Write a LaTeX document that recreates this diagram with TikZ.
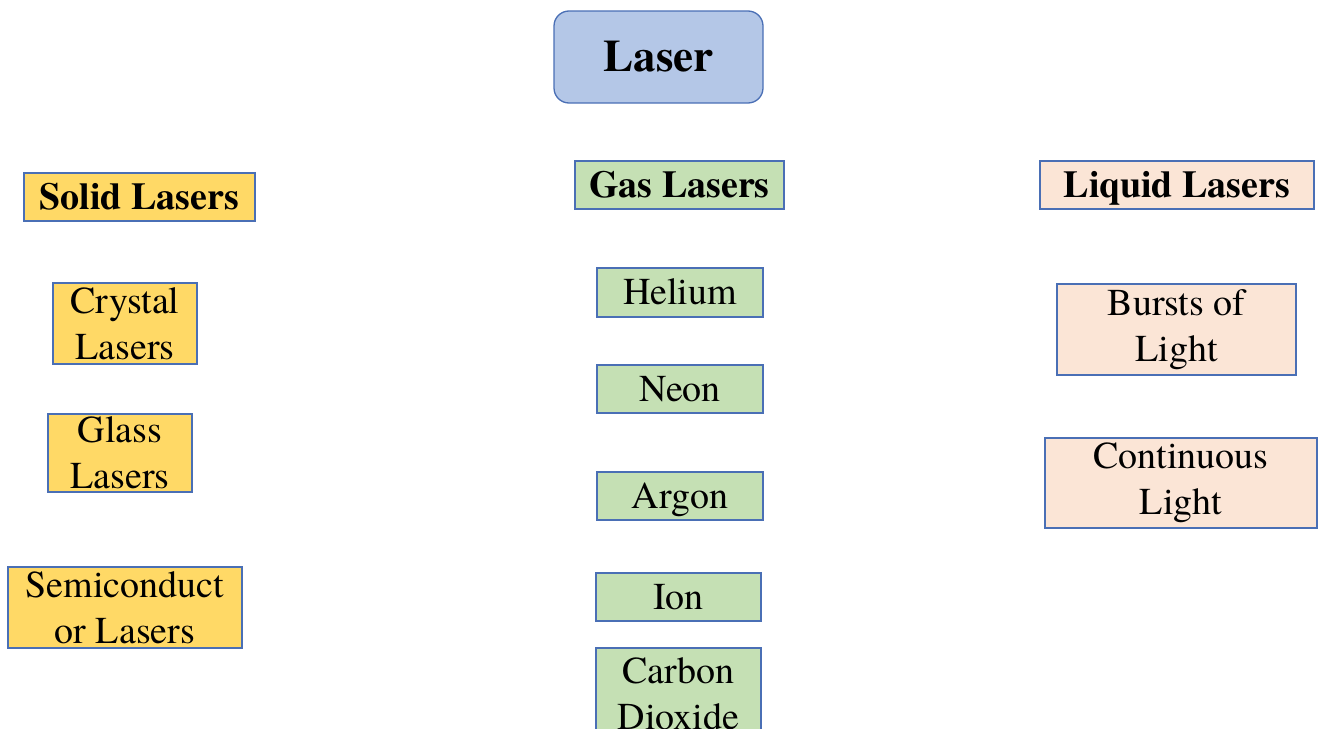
\documentclass[tikz,border=0pt]{standalone}
\usepackage{fontspec}
\setmainfont{TeX Gyre Termes}
\usetikzlibrary{positioning}
\definecolor{topblue}{HTML}{B4C7E7}
\definecolor{solidfill}{HTML}{FFD966}
\definecolor{gasfill}{HTML}{C5E0B4}
\definecolor{liquidfill}{HTML}{FBE5D6}
\definecolor{edgeblue}{HTML}{4A6FB5}
\tikzset{
    box/.style={draw=edgeblue, line width=1.3pt, inner sep=0pt, align=center,
        font=\fontsize{38}{46}\selectfont},
    oneline/.style={box, text height=30pt, text depth=6pt},
    head/.style={oneline, font=\fontsize{38}{46}\selectfont\bfseries},
}

\begin{document}
\begin{tikzpicture}[x=1pt, y=-1pt]
    % Page frame.
    \useasboundingbox (0,0) rectangle (1319,728);

    % Root.
    \node[box, fill=topblue, rounded corners=15pt, minimum width=209pt, minimum height=92pt,
        font=\fontsize{45}{54}\selectfont\bfseries] (laser) at (658.5,57) {Laser};

    % Column heads.
    \node[head, fill=solidfill, minimum width=231pt, minimum height=48pt] (solid) at (139.5,197) {Solid Lasers};
    \node[head, fill=gasfill, minimum width=209pt, minimum height=48pt] (gas) at (679.5,185) {Gas Lasers};
    \node[head, fill=liquidfill, minimum width=274pt, minimum height=48pt] (liquid) at (1177,185) {Liquid Lasers};

    % Solid lasers.
    \node[box, fill=solidfill, minimum width=144pt, minimum height=81pt] (crystal) at (125,323.5) {Crystal\\Lasers};
    \node[box, fill=solidfill, minimum width=144pt, minimum height=78pt] (glass) at (120,453) {Glass\\Lasers};
    \node[box, fill=solidfill, minimum width=234pt, minimum height=81pt] (semi) at (125,607.5) {Semiconduct\\or Lasers};

    % Gas lasers.
    \node[oneline, fill=gasfill, minimum width=166pt, minimum height=49pt] (helium) at (680,292.5) {Helium};
    \node[oneline, fill=gasfill, minimum width=166pt, minimum height=48pt] (neon) at (680,389) {Neon};
    \node[oneline, fill=gasfill, minimum width=166pt, minimum height=48pt] (argon) at (680,496) {Argon};
    \node[oneline, fill=gasfill, minimum width=165pt, minimum height=48pt] (ion) at (678.5,597) {Ion};
    \node[box, fill=gasfill, minimum width=165pt, minimum height=92pt] (carbon) at (678.5,694) {Carbon\\Dioxide};

    % Liquid lasers.
    \node[box, fill=liquidfill, minimum width=239pt, minimum height=91pt] (bursts) at (1176.5,329.5) {Bursts of\\Light};
    \node[box, fill=liquidfill, minimum width=272pt, minimum height=90pt] (continuous) at (1181,483) {Continuous\\Light};

\end{tikzpicture}
\end{document}
